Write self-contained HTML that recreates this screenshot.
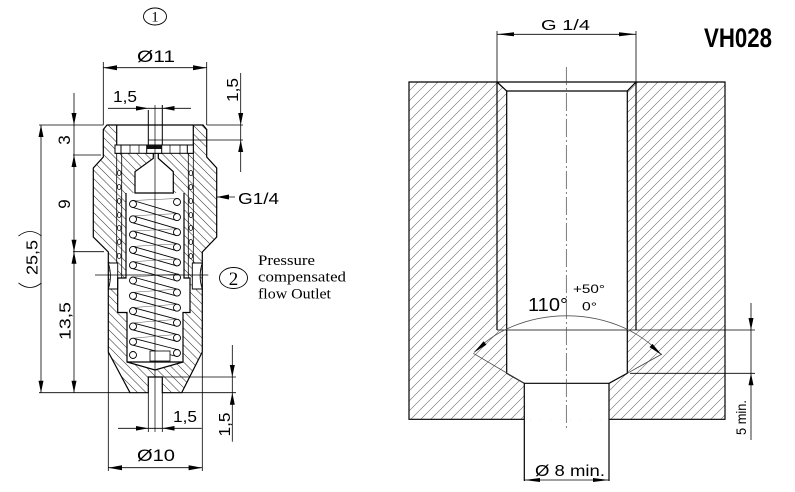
<!DOCTYPE html>
<html><head><meta charset="utf-8"><style>
html,body{margin:0;padding:0;background:#fff;}
svg{display:block;}
text{font-family:"Liberation Sans",sans-serif;fill:#000;}
.s{font-family:"Liberation Serif",serif;}
</style></head><body>
<svg width="795" height="492" viewBox="0 0 795 492" xmlns="http://www.w3.org/2000/svg">
<defs>
<pattern id="hl" patternUnits="userSpaceOnUse" width="8.5" height="8.5">
<path d="M-2,-2 L10.5,10.5 M-2,6.5 L2,10.5 M6.5,-2 L10.5,2" stroke="#333" stroke-width="0.6"/>
</pattern>
<pattern id="hr" patternUnits="userSpaceOnUse" width="10" height="10">
<path d="M-1,11 L11,-1 M-1,1 L1,-1 M9,11 L11,9" stroke="#666" stroke-width="0.6"/>
</pattern>
</defs>

<!-- ================= RIGHT DRAWING ================= -->
<rect x="409" y="82" width="316" height="337.3" fill="url(#hr)"/>
<path d="M497,82 L636,82 L627.3,91 L627.3,373.3 L609,383.3 L609,419.3 L524.3,419.3 L524.3,383.3 L506.7,373.3 L506.7,91 Z" fill="#fff"/>
<g stroke="#000" stroke-width="1.2" fill="none">
<path d="M524.3,419.3 L409,419.3 L409,82 L725,82 L725,419.3 L609,419.3"/>
<path d="M524.3,481 L524.3,383.3 L506.7,373.3 L506.7,91 L497,82"/>
<path d="M609,481 L609,383.3 L627.3,373.3 L627.3,91 L636,82"/>
<line x1="506.7" y1="91" x2="627.3" y2="91"/>
<line x1="524.3" y1="383.3" x2="609" y2="383.3"/>
<line x1="497" y1="82" x2="497" y2="330"/>
<line x1="636" y1="82" x2="636" y2="330"/>
</g>
<g stroke="#000" stroke-width="0.8" fill="none">
<line x1="497" y1="330" x2="755" y2="330"/>
<line x1="630" y1="373.3" x2="755" y2="373.3"/>
<line x1="497" y1="31" x2="497" y2="82"/>
<line x1="636" y1="31" x2="636" y2="82"/>
<line x1="497" y1="34.3" x2="636" y2="34.3"/>
<line x1="524.3" y1="480" x2="609" y2="480"/>
<line x1="751" y1="303" x2="751" y2="440"/>
<line x1="473.3" y1="353.3" x2="524.3" y2="383.3" stroke="#444"/>
<line x1="627.3" y1="373.3" x2="662" y2="354" stroke="#444"/>
<path d="M474,352.5 A116,92 0 0 1 661.7,355" stroke="#555"/>
<line x1="566.3" y1="67" x2="566.3" y2="428" stroke="#444" stroke-width="0.7" stroke-dasharray="18,3,2,3"/>
</g>
<g fill="#000">
<polygon points="497,34.3 514,32.3 514,36.3"/>
<polygon points="636,34.3 619,32.3 619,36.3"/>
<polygon points="524.3,480 540,478 540,482"/>
<polygon points="609,480 593,478 593,482"/>
<polygon points="751,330 748.5,318 753.5,318"/>
<polygon points="751,373.3 748.5,385.3 753.5,385.3"/>
<polygon points="474,352.5 486.4,344.7 483.6,341.3"/>
<polygon points="661.7,355 649.5,347.1 652.5,343.9"/>
</g>
<text x="541" y="30" font-size="15" textLength="49" lengthAdjust="spacingAndGlyphs">G 1/4</text>
<text x="704" y="47" font-size="27" font-weight="bold" textLength="68" lengthAdjust="spacingAndGlyphs">VH028</text>
<text x="528" y="311" font-size="18" textLength="40" lengthAdjust="spacingAndGlyphs">110°</text>
<text x="573" y="293" font-size="12" textLength="32" lengthAdjust="spacingAndGlyphs">+50°</text>
<text x="582" y="310.5" font-size="12" textLength="15" lengthAdjust="spacingAndGlyphs">0°</text>
<text transform="translate(746,417.5) rotate(-90)" text-anchor="middle" font-size="14" textLength="35" lengthAdjust="spacingAndGlyphs">5 min.</text>
<text x="535" y="476" font-size="16" textLength="70" lengthAdjust="spacingAndGlyphs">Ø 8 min.</text>

<!-- ================= LEFT DRAWING ================= -->
<path d="M107,125 L203,125 L206.7,129.5 L206.7,157 L216.7,168 L216.7,237 L202.3,252 L202.3,352 L181.7,392.7 L162.3,392.7 L162.3,377 L148.3,377 L148.3,392.7 L130,392.7 L108.3,352 L108.3,252 L93.3,237 L93.3,168 L103.3,157 L103.3,129.5 Z" fill="url(#hl)"/>
<rect x="116.7" y="125" width="76.6" height="20" fill="#fff"/>
<path d="M153.3,153.3 L158.3,153.3 L158.3,158.3 L173.3,171.7 L173.3,193 L184,193 L184,278 L190,278 L190,312.5 L183,312.5 L183,362 L155,370 L127,362 L127,312.5 L117.7,312.5 L117.7,278 L126,278 L126,193 L135,193 L135,171.7 L153.3,158.3 Z" fill="#fff"/>
<path d="M108.3,263 L117.7,263 L117.7,289 L108.3,289 Q112.5,276 108.3,263 Z" fill="#fff" stroke="#000" stroke-width="0.9"/>
<path d="M202.3,263 L192.3,263 L192.3,289 L202.3,289 Q198,276 202.3,263 Z" fill="#fff" stroke="#000" stroke-width="0.9"/>

<g stroke="#000" stroke-width="1.2" fill="none">
<path d="M107,125 L203,125 L206.7,129.5 L206.7,157 L216.7,168 L216.7,237 L202.3,252 L202.3,352 L181.7,392.7 L162.3,392.7 L162.3,377 L148.3,377 L148.3,392.7 L130,392.7 L108.3,352 L108.3,252 L93.3,237 L93.3,168 L103.3,157 L103.3,129.5 Z"/>
<line x1="116.7" y1="125" x2="116.7" y2="145"/>
<line x1="193.3" y1="125" x2="193.3" y2="145"/>
<path d="M153.3,153.3 L153.3,158.3 L135,171.7 L135,193 L173.3,193 L173.3,171.7 L158.3,158.3 L158.3,153.3"/>
<path d="M126,193 L126,278 L117.7,278 L117.7,312.5 L127,312.5 L127,362 L155,370 L183,362 L183,312.5 L190,312.5 L190,278 L184,278 L184,193"/>
<line x1="127" y1="362" x2="183" y2="362"/>
</g>
<g stroke="#000" stroke-width="1" fill="#fff">
<rect x="115" y="145" width="78.3" height="8.3"/>
<rect x="115" y="145" width="6" height="8.3"/>
<rect x="187.3" y="145" width="6" height="8.3"/>
<rect x="146.7" y="145" width="15" height="8.3"/>
</g>
<rect x="146.7" y="145" width="15" height="4" fill="#111"/>
<g stroke="#000" stroke-width="0.7">
<line x1="130" y1="145" x2="130" y2="153.3"/>
<line x1="139" y1="145" x2="139" y2="153.3"/>
<line x1="170" y1="145" x2="170" y2="153.3"/>
<line x1="180" y1="145" x2="180" y2="153.3"/>
</g>
<g stroke="#000" stroke-width="1" fill="none">
<line x1="148.3" y1="110" x2="148.3" y2="145"/>
<line x1="162.3" y1="105" x2="162.3" y2="145"/>
</g>
<g stroke="#000" stroke-width="0.8">
<line x1="116.7" y1="153.3" x2="116.7" y2="263"/>
<line x1="121.7" y1="153.3" x2="121.7" y2="278"/>
<line x1="193.3" y1="153.3" x2="193.3" y2="263"/>
<line x1="188.3" y1="153.3" x2="188.3" y2="278"/>
</g>
<g stroke="#000" stroke-width="0.8" fill="#fff">
<ellipse cx="119.2" cy="173" rx="1.8" ry="2.5"/>
<ellipse cx="119.2" cy="187" rx="1.8" ry="2.5"/>
<ellipse cx="119.2" cy="201" rx="1.8" ry="2.5"/>
<ellipse cx="119.2" cy="215" rx="1.8" ry="2.5"/>
<ellipse cx="119.2" cy="228" rx="1.8" ry="2.5"/>
<ellipse cx="119.2" cy="242" rx="1.8" ry="2.5"/>
<ellipse cx="119.2" cy="256" rx="1.8" ry="2.5"/>
<ellipse cx="190.8" cy="173" rx="1.8" ry="2.5"/>
<ellipse cx="190.8" cy="187" rx="1.8" ry="2.5"/>
<ellipse cx="190.8" cy="201" rx="1.8" ry="2.5"/>
<ellipse cx="190.8" cy="215" rx="1.8" ry="2.5"/>
<ellipse cx="190.8" cy="228" rx="1.8" ry="2.5"/>
<ellipse cx="190.8" cy="242" rx="1.8" ry="2.5"/>
<ellipse cx="190.8" cy="256" rx="1.8" ry="2.5"/>
</g>
<g stroke="#000" stroke-width="0.9" fill="none">
<path d="M133,200.5 L177,213.6 M133,207.5 L177,220.6"/>
<path d="M133,215.8 L177,228.7 M133,222.8 L177,235.7"/>
<path d="M133,231.1 L177,243.8 M133,238.1 L177,250.8"/>
<path d="M133,246.4 L177,258.9 M133,253.4 L177,265.9"/>
<path d="M133,261.7 L177,274 M133,268.7 L177,281"/>
<path d="M133,277 L177,289.1 M133,284 L177,296.1"/>
<path d="M133,292.3 L177,304.2 M133,299.3 L177,311.2"/>
<path d="M133,307.6 L177,319.3 M133,314.6 L177,326.3"/>
<path d="M133,322.9 L177,334.4 M133,329.9 L177,341.4"/>
<path d="M133,338.2 L177,349.5 M133,345.2 L177,356.5"/>
<path d="M177,198.5 L133,200.5 M177,213.6 L133,215.8 M177,228.7 L133,231.1 M177,243.8 L133,246.4 M177,258.9 L133,261.7 M177,274 L133,277 M177,289.1 L133,292.3 M177,304.2 L133,307.6 M177,319.3 L133,322.9 M177,334.4 L133,338.2" stroke-width="0.5" stroke="#555"/>
</g>
<g stroke="#000" stroke-width="0.9" fill="#fff">
<circle cx="133" cy="204" r="3.5"/>
<circle cx="133" cy="219.3" r="3.5"/>
<circle cx="133" cy="234.6" r="3.5"/>
<circle cx="133" cy="249.9" r="3.5"/>
<circle cx="133" cy="265.2" r="3.5"/>
<circle cx="133" cy="280.5" r="3.5"/>
<circle cx="133" cy="295.8" r="3.5"/>
<circle cx="133" cy="311.1" r="3.5"/>
<circle cx="133" cy="326.4" r="3.5"/>
<circle cx="133" cy="341.7" r="3.5"/>
<circle cx="133" cy="355" r="3.5"/>
<circle cx="177" cy="202" r="3.5"/>
<circle cx="177" cy="217.1" r="3.5"/>
<circle cx="177" cy="232.2" r="3.5"/>
<circle cx="177" cy="247.3" r="3.5"/>
<circle cx="177" cy="262.4" r="3.5"/>
<circle cx="177" cy="277.5" r="3.5"/>
<circle cx="177" cy="292.6" r="3.5"/>
<circle cx="177" cy="307.7" r="3.5"/>
<circle cx="177" cy="322.8" r="3.5"/>
<circle cx="177" cy="337.9" r="3.5"/>
<circle cx="177" cy="353" r="3.5"/>
<rect x="150" y="351" width="20" height="10" stroke-width="0.8"/>
</g>

<g stroke="#000" stroke-width="0.8" fill="none">
<line x1="155" y1="105" x2="155" y2="432" stroke-width="0.7"/>
<line x1="103.3" y1="62" x2="103.3" y2="125"/>
<line x1="206.7" y1="62" x2="206.7" y2="125"/>
<line x1="103.3" y1="67.7" x2="206.7" y2="67.7"/>
<line x1="108" y1="108.3" x2="191" y2="108.3"/>
<line x1="74" y1="93" x2="74" y2="392.7"/>
<line x1="41" y1="125" x2="41" y2="392.7"/>
<line x1="39" y1="125" x2="103.3" y2="125"/>
<line x1="206.7" y1="125" x2="243" y2="125"/>
<line x1="73" y1="155" x2="101" y2="155"/>
<line x1="73" y1="251.7" x2="104" y2="251.7"/>
<line x1="39" y1="392.7" x2="130" y2="392.7"/>
<line x1="181.7" y1="392.7" x2="236" y2="392.7"/>
<line x1="240.7" y1="73" x2="240.7" y2="172"/>
<line x1="148.3" y1="140" x2="243" y2="140"/>
<line x1="232.3" y1="345" x2="232.3" y2="441.7"/>
<line x1="162.3" y1="377" x2="236" y2="377"/>
<line x1="118" y1="428.3" x2="201.7" y2="428.3"/>
<line x1="148.3" y1="392.7" x2="148.3" y2="432"/>
<line x1="162.3" y1="392.7" x2="162.3" y2="432"/>
<line x1="108.3" y1="352" x2="108.3" y2="471"/>
<line x1="202.3" y1="352" x2="202.3" y2="471"/>
<line x1="108.3" y1="467.7" x2="202.3" y2="467.7"/>
<line x1="217" y1="197" x2="235" y2="197"/>
<line x1="95" y1="275" x2="208.3" y2="275"/>
<path d="M18.5,236 Q30,227 41.5,236"/>
<path d="M18.5,283 Q30,292 41.5,283"/>
<ellipse cx="155" cy="16.5" rx="11.5" ry="8.5" stroke-width="0.9"/>
<ellipse cx="233.5" cy="278" rx="14" ry="10.5" stroke-width="0.9"/>
</g>
<g fill="#000">
<polygon points="103.3,67.7 117,65.2 117,70.2"/>
<polygon points="206.7,67.7 193,65.2 193,70.2"/>
<polygon points="148.3,108.3 136,106 136,110.6"/>
<polygon points="162.3,108.3 174.5,106 174.5,110.6"/>
<polygon points="74,125 71.5,113 76.5,113"/>
<polygon points="74,155 71.5,167 76.5,167"/>
<polygon points="74,251.7 71.5,239.7 76.5,239.7"/>
<polygon points="74,251.7 71.5,263.7 76.5,263.7"/>
<polygon points="74,392.7 71.5,380.7 76.5,380.7"/>
<polygon points="41,125 38.5,137 43.5,137"/>
<polygon points="41,392.7 38.5,380.7 43.5,380.7"/>
<polygon points="240.7,125 238.2,113 243.2,113"/>
<polygon points="240.7,140 238.2,152 243.2,152"/>
<polygon points="232.3,377 229.8,365 234.8,365"/>
<polygon points="232.3,392.7 229.8,404.7 234.8,404.7"/>
<polygon points="148.3,428.3 136,426 136,430.6"/>
<polygon points="162.3,428.3 174.5,426 174.5,430.6"/>
<polygon points="108.3,467.7 122,465.2 122,470.2"/>
<polygon points="202.3,467.7 188.6,465.2 188.6,470.2"/>
<polygon points="216.7,197 229,194.5 229,199.5"/>
</g>
<text x="137" y="62" font-size="17" textLength="38" lengthAdjust="spacingAndGlyphs">Ø11</text>
<text x="113" y="102" font-size="16" textLength="24" lengthAdjust="spacingAndGlyphs">1,5</text>
<text x="238" y="204" font-size="16" textLength="41" lengthAdjust="spacingAndGlyphs">G1/4</text>
<text x="137" y="461" font-size="17" textLength="38" lengthAdjust="spacingAndGlyphs">Ø10</text>
<text x="173" y="422" font-size="16" textLength="24" lengthAdjust="spacingAndGlyphs">1,5</text>
<text transform="translate(70,140) rotate(-90)" text-anchor="middle" font-size="17">3</text>
<text transform="translate(70,204) rotate(-90)" text-anchor="middle" font-size="17">9</text>
<text transform="translate(70.5,321) rotate(-90)" text-anchor="middle" font-size="16" textLength="38" lengthAdjust="spacingAndGlyphs">13,5</text>
<text transform="translate(37.5,257.5) rotate(-90)" text-anchor="middle" font-size="16" textLength="35" lengthAdjust="spacingAndGlyphs">25,5</text>
<text transform="translate(238,90) rotate(-90)" text-anchor="middle" font-size="16" textLength="24" lengthAdjust="spacingAndGlyphs">1,5</text>
<text transform="translate(230,424.5) rotate(-90)" text-anchor="middle" font-size="16" textLength="24" lengthAdjust="spacingAndGlyphs">1,5</text>
<text class="s" x="155" y="21.5" text-anchor="middle" font-size="15">1</text>
<text class="s" x="233.5" y="285" text-anchor="middle" font-size="19">2</text>
<text class="s" x="258" y="265" font-size="15" textLength="57" lengthAdjust="spacingAndGlyphs">Pressure</text>
<text class="s" x="258" y="281.7" font-size="15" textLength="88" lengthAdjust="spacingAndGlyphs">compensated</text>
<text class="s" x="258" y="298.3" font-size="15" textLength="73" lengthAdjust="spacingAndGlyphs">flow Outlet</text>
</svg>
</body></html>
